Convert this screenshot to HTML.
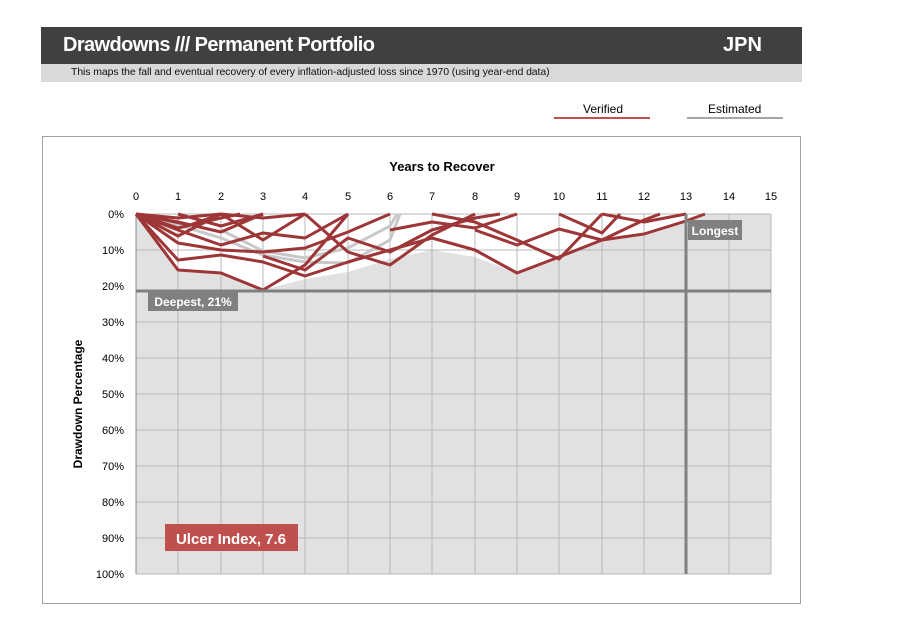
<!DOCTYPE html>
<html><head><style>
body{margin:0;width:903px;height:633px;background:#fff;font-family:"Liberation Sans",sans-serif;position:relative;overflow:hidden}
.abs{position:absolute}
</style></head><body>
<div class="abs" style="left:41px;top:27px;width:761px;height:37px;background:#404040"></div>
<div class="abs" style="left:63px;top:34px;color:#fff;font-size:20px;font-weight:bold;letter-spacing:-0.6px">Drawdowns /// Permanent Portfolio</div>
<div class="abs" style="left:723px;top:34px;color:#fff;font-size:20px;font-weight:bold">JPN</div>
<div class="abs" style="left:41px;top:64px;width:761px;height:18px;background:#d9d9d9"></div>
<div class="abs" style="left:71px;top:66px;font-size:10.5px;color:#111;letter-spacing:-0.1px">This maps the fall and eventual recovery of every inflation-adjusted loss since 1970 (using year-end data)</div>
<div class="abs" style="left:583px;top:102px;font-size:12px">Verified</div>
<div class="abs" style="left:554px;top:117px;width:96px;height:2px;background:#c0504d"></div>
<div class="abs" style="left:708px;top:102px;font-size:12px">Estimated</div>
<div class="abs" style="left:687px;top:117px;width:96px;height:2px;background:#a6a6a6"></div>
<div class="abs" style="left:42px;top:136px;width:759px;height:468px;border:1px solid #a0a0a0;box-sizing:border-box"></div>
<svg class="abs" style="left:0;top:0" width="903" height="633">
<rect x="136" y="214" width="635" height="360" fill="#e1e1e1"/>
<polygon fill="#fff" points="136,214 178,270 221,273 263,290 305,279 348,272 390,259 432,250 475,257 517,273 559,257 602,239 644,234 686,221 705,214"/>
<g stroke="#b8b8b8" stroke-width="1">
<path d="M178,214V574M221,214V574M263,214V574M305,214V574M348,214V574M390,214V574M432,214V574M475,214V574M517,214V574M559,214V574M602,214V574M644,214V574M729,214V574M771,214V574"/>
<path d="M136,250H771M136,322H771M136,358H771M136,394H771M136,430H771M136,466H771M136,502H771M136,538H771M136,574H771M136,214H771"/>
</g>
<path d="M136,214V574" stroke="#888" stroke-width="1"/>
<g fill="none" stroke="#c8c8c8" stroke-width="3">
<polyline points="136,214 178,225 221,238 263,255 305,262 348,263 390,240 400,214"/>
<polyline points="221,230 263,251 305,258 348,248 390,226 397,214"/>
</g>
<g fill="none" stroke="#9e3638" stroke-width="3" stroke-linejoin="round">
<polyline points="136,214 178,270 221,273 263,290 305,265 348,214"/>
<polyline points="136,214 178,243 221,250 263,252 305,248 348,232 390,214"/>
<polyline points="136,214 178,260 221,255 263,262 305,276 348,262 390,250 432,238 475,250 517,273 559,257 602,240 644,234 686,221 705,214"/>
<polyline points="136,214 178,230 221,245 263,233 305,238 348,214"/>
<polyline points="136,214 178,222 221,232 263,214"/>
<polyline points="136,214 178,236 221,214"/>
<polyline points="136,214 178,228 221,218 240,214"/>
<polyline points="136,214 190,225 221,214"/>
<polyline points="136,214 178,218 221,214 263,218 305,214"/>
<polyline points="305,214 348,252 390,265 432,235 475,214"/>
<polyline points="263,256 305,270 348,238 390,252 432,230 475,218 500,214"/>
<polyline points="390,230 432,222 475,228 517,214"/>
<polyline points="432,214 475,222 517,240 559,259 602,214"/>
<polyline points="475,230 517,245 559,229 602,240 644,220 660,214"/>
<polyline points="559,214 602,233 620,214"/>
<polyline points="602,214 644,222 686,214"/>
<polyline points="221,214 263,240 305,214"/>
<polyline points="178,214 221,226 263,214"/>
</g>
<path d="M136,291H771" stroke="#808080" stroke-width="3"/>
<path d="M686,214V574" stroke="#808080" stroke-width="3"/>
<g font-family="Liberation Sans" font-size="11" text-anchor="middle" fill="#000">
<text x="136" y="200">0</text><text x="178" y="200">1</text><text x="221" y="200">2</text><text x="263" y="200">3</text><text x="305" y="200">4</text><text x="348" y="200">5</text><text x="390" y="200">6</text><text x="432" y="200">7</text><text x="475" y="200">8</text><text x="517" y="200">9</text><text x="559" y="200">10</text><text x="602" y="200">11</text><text x="644" y="200">12</text><text x="686" y="200">13</text><text x="729" y="200">14</text><text x="771" y="200">15</text>
</g>
<g font-family="Liberation Sans" font-size="11" text-anchor="end" fill="#000">
<text x="124" y="218">0%</text><text x="124" y="254">10%</text><text x="124" y="290">20%</text><text x="124" y="326">30%</text><text x="124" y="362">40%</text><text x="124" y="398">50%</text><text x="124" y="434">60%</text><text x="124" y="470">70%</text><text x="124" y="506">80%</text><text x="124" y="542">90%</text><text x="124" y="578">100%</text>
</g>
<text x="442" y="171" font-family="Liberation Sans" font-size="13" font-weight="bold" text-anchor="middle">Years to Recover</text>
<text transform="translate(82,404) rotate(-90)" font-family="Liberation Sans" font-size="12" font-weight="bold" text-anchor="middle">Drawdown Percentage</text>
<rect x="148" y="292" width="90" height="19" fill="#808080"/>
<text x="193" y="306" font-family="Liberation Sans" font-size="12" font-weight="bold" fill="#fff" text-anchor="middle">Deepest, 21%</text>
<rect x="688" y="220" width="54" height="20" fill="#808080"/>
<text x="715" y="235" font-family="Liberation Sans" font-size="12" font-weight="bold" fill="#fff" text-anchor="middle">Longest</text>
<rect x="165" y="524" width="133" height="27" fill="#c0504d"/>
<text x="231" y="544" font-family="Liberation Sans" font-size="15" font-weight="bold" fill="#fff" text-anchor="middle">Ulcer Index, 7.6</text>
</svg>
</body></html>
